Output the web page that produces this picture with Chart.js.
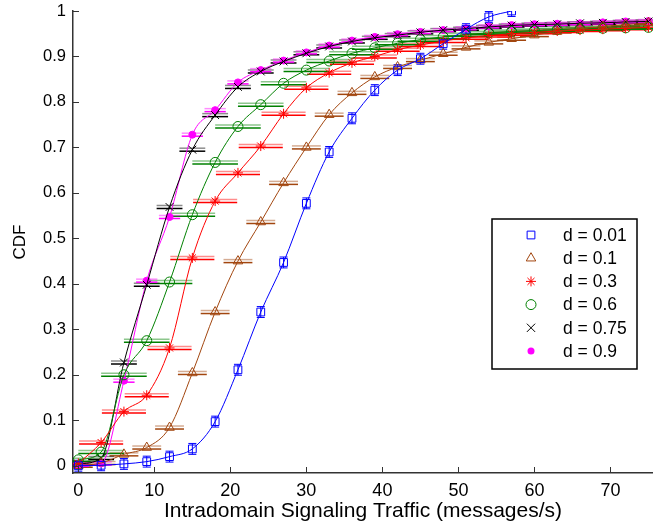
<!DOCTYPE html>
<html>
<head>
<meta charset="utf-8">
<script src="https://cdn.jsdelivr.net/npm/chart.js@4/dist/chart.umd.min.js"></script>
<style>
  body { margin: 0; background: #fff; }
  #wrap { position: relative; width: 653px; height: 527px; }
</style>
</head>
<body>
<div id="wrap"><canvas id="cdfChart" width="653" height="527"></canvas></div>
<script>
// valores de x (mensajes/s) donde hay marcadores
const xVals = [0, 3, 6, 9, 12, 15, 18, 21, 24, 27, 30, 33, 36, 39, 42, 45, 48, 51, 54, 57, 60, 63, 66, 69, 72, 75];

const labels = ["d = 0.01", "d = 0.1", "d = 0.3", "d = 0.6", "d = 0.75", "d = 0.9"];

const cdf001 = [0.000, 0.001, 0.004, 0.009, 0.020, 0.037, 0.097, 0.211, 0.338, 0.447, 0.577, 0.690, 0.764, 0.826, 0.870, 0.895, 0.928, 0.960, 0.987, 1.000];
const cdf01 = [0.000, 0.006, 0.025, 0.040, 0.084, 0.204, 0.338, 0.450, 0.536, 0.622, 0.700, 0.772, 0.820, 0.855, 0.877, 0.892, 0.906, 0.920, 0.931, 0.939, 0.947, 0.955, 0.961, 0.966, 0.970, 0.974];
const cdf03 = [0.005, 0.051, 0.119, 0.155, 0.259, 0.457, 0.582, 0.644, 0.703, 0.774, 0.831, 0.864, 0.886, 0.900, 0.915, 0.925, 0.934, 0.941, 0.946, 0.950, 0.953, 0.956, 0.958, 0.960, 0.962, 0.964];
const cdf06 = [0.013, 0.030, 0.200, 0.275, 0.404, 0.552, 0.667, 0.746, 0.794, 0.841, 0.870, 0.890, 0.907, 0.919, 0.929, 0.937, 0.943, 0.948, 0.952, 0.955, 0.957, 0.959, 0.961, 0.962, 0.963, 0.964];
const cdf075 = [0.004, 0.017, 0.227, 0.398, 0.569, 0.695, 0.771, 0.833, 0.867, 0.889, 0.907, 0.922, 0.933, 0.941, 0.947, 0.953, 0.958, 0.961, 0.965, 0.968, 0.970, 0.971, 0.973, 0.974, 0.976, 0.977];
const cdf09 = [0.002, 0.005, 0.187, 0.407, 0.547, 0.728, 0.782, 0.843, 0.870, 0.891, 0.909, 0.924, 0.935, 0.943, 0.949, 0.954, 0.958, 0.962, 0.966, 0.969, 0.971, 0.972, 0.973, 0.975, 0.977, 0.978];

// semiancho de las barras de error (horizontal en x, vertical en y)
const xErr = [0, 1.9, 2.9, 3.0, 1.7, 1.4];
const yErr = [0.012, 0, 0, 0, 0, 0];

const xTicks = [0, 10, 20, 30, 40, 50, 60, 70];
const yTicks = [0, 0.1, 0.2, 0.3, 0.4, 0.5, 0.6, 0.7, 0.8, 0.9, 1];

const colores = ["#0000ff", "#a2460f", "#ff0000", "#008000", "#000000", "#ff00ff"];
const estilos = ["rect", "triangle", "star", "circle", "crossRot", "circle"];
const radios = [5.5, 5.5, 5, 5, 5.5, 3.5];

const series = [cdf001, cdf01, cdf03, cdf06, cdf075, cdf09];

function puntos(vals) {
  return vals.map((v, i) => ({ x: xVals[i], y: v }));
}

const datasets = series.map((vals, i) => ({
  label: labels[i],
  data: puntos(vals),
  borderColor: colores[i],
  backgroundColor: colores[i],
  borderWidth: 1,
  pointStyle: estilos[i],
  pointRadius: radios[i],
  pointBorderColor: colores[i],
  pointBackgroundColor: i === 5 ? colores[i] : "rgba(0,0,0,0)",
  pointBorderWidth: 1,
  cubicInterpolationMode: "monotone",
  fill: false,
}));

function conAlfa(hex, a) {
  const r = parseInt(hex.slice(1, 3), 16), g = parseInt(hex.slice(3, 5), 16), b = parseInt(hex.slice(5, 7), 16);
  return "rgba(" + r + "," + g + "," + b + "," + a + ")";
}

// barras de error dobles, como en la figura original
const barrasError = {
  id: "barrasError",
  beforeDatasetsDraw(chart) {
    const { ctx, chartArea, scales } = chart;
    ctx.save();
    ctx.beginPath();
    ctx.rect(chartArea.left, chartArea.top, chartArea.width, chartArea.height);
    ctx.clip();
    chart.data.datasets.forEach((ds, i) => {
      ds.data.forEach((p) => {
        const px = scales.x.getPixelForValue(p.x);
        const py = scales.y.getPixelForValue(p.y);
        ctx.lineWidth = 1.5;
        if (xErr[i]) {
          const x1 = scales.x.getPixelForValue(p.x - xErr[i]);
          const x2 = scales.x.getPixelForValue(p.x + xErr[i]);
          ctx.strokeStyle = conAlfa(colores[i], 0.45);
          ctx.beginPath(); ctx.moveTo(x1, py - 1.5); ctx.lineTo(x2, py - 1.5); ctx.stroke();
          ctx.strokeStyle = colores[i];
          ctx.beginPath(); ctx.moveTo(x1, py + 1.5); ctx.lineTo(x2, py + 1.5); ctx.stroke();
        }
        if (yErr[i]) {
          const y1 = scales.y.getPixelForValue(p.y - yErr[i]);
          const y2 = scales.y.getPixelForValue(p.y + yErr[i]);
          ctx.lineWidth = 1;
          ctx.strokeStyle = colores[i];
          ctx.beginPath();
          ctx.moveTo(px, y1); ctx.lineTo(px, y2);
          ctx.moveTo(px - 4, y1); ctx.lineTo(px + 4, y1);
          ctx.moveTo(px - 4, y2); ctx.lineTo(px + 4, y2);
          ctx.stroke();
        }
      });
    });
    ctx.restore();
  },
};

// marcas de los ejes hacia dentro (estilo MATLAB)
const marcas = {
  id: "marcas",
  afterDraw(chart) {
    const { ctx, chartArea, scales } = chart;
    ctx.save();
    ctx.strokeStyle = "#333";
    ctx.lineWidth = 1;
    ctx.beginPath();
    xTicks.forEach((v) => {
      const px = Math.round(scales.x.getPixelForValue(v)) + 0.5;
      ctx.moveTo(px, chartArea.bottom); ctx.lineTo(px, chartArea.bottom - 6);
    });
    yTicks.forEach((v) => {
      const py = Math.round(scales.y.getPixelForValue(v)) + 0.5;
      ctx.moveTo(chartArea.left, py); ctx.lineTo(chartArea.left + 6, py);
    });
    ctx.stroke();
    ctx.restore();
  },
};

function dibujarMarcador(ctx, i, x, y) {
  const r = radios[i];
  ctx.strokeStyle = colores[i];
  ctx.fillStyle = colores[i];
  ctx.lineWidth = 1;
  ctx.beginPath();
  if (estilos[i] === "rect") {
    const s = r * Math.SQRT1_2;
    ctx.rect(x - s, y - s, 2 * s, 2 * s);
    ctx.stroke();
  } else if (estilos[i] === "triangle") {
    ctx.moveTo(x, y - r);
    ctx.lineTo(x + r * 0.866, y + r * 0.5);
    ctx.lineTo(x - r * 0.866, y + r * 0.5);
    ctx.closePath();
    ctx.stroke();
  } else if (estilos[i] === "star") {
    for (let k = 0; k < 4; k++) {
      const a = (k * Math.PI) / 4;
      ctx.moveTo(x - r * Math.cos(a), y - r * Math.sin(a));
      ctx.lineTo(x + r * Math.cos(a), y + r * Math.sin(a));
    }
    ctx.stroke();
  } else if (estilos[i] === "crossRot") {
    const s = r * 0.75;
    ctx.moveTo(x - s, y - s); ctx.lineTo(x + s, y + s);
    ctx.moveTo(x + s, y - s); ctx.lineTo(x - s, y + s);
    ctx.stroke();
  } else {
    ctx.arc(x, y, r, 0, Math.PI * 2);
    if (i === 5) ctx.fill(); else ctx.stroke();
  }
}

// leyenda dentro del área del gráfico
const leyenda = {
  id: "leyenda",
  afterDraw(chart) {
    const ctx = chart.ctx;
    const bx = 492, by = 219, bw = 145, bh = 150;
    ctx.save();
    ctx.fillStyle = "#fff";
    ctx.fillRect(bx, by, bw, bh);
    ctx.strokeStyle = "#000";
    ctx.lineWidth = 1.5;
    ctx.strokeRect(bx, by, bw, bh);
    labels.forEach((t, i) => {
      const yy = by + 16 + i * 23.2;
      dibujarMarcador(ctx, i, 531, yy);
      ctx.fillStyle = "#000";
      ctx.font = "17.5px 'Liberation Sans', Arial, sans-serif";
      ctx.textBaseline = "middle";
      ctx.textAlign = "left";
      ctx.fillText(t, 563, yy + 1);
    });
    ctx.restore();
  },
};

const familia = "'Liberation Sans', Arial, sans-serif";

new Chart(document.getElementById("cdfChart").getContext("2d"), {
  type: "line",
  data: { datasets: datasets },
  options: {
    responsive: false,
    animation: false,
    events: [],
    layout: { autoPadding: false, padding: { top: 11, right: 0, left: 0, bottom: 0 } },
    plugins: { legend: { display: false }, tooltip: { enabled: false } },
    scales: {
      x: {
        type: "linear",
        min: -0.7,
        max: 75.6,
        afterBuildTicks: (scale) => { scale.ticks = xTicks.map((v) => ({ value: v })); },
        afterFit: (scale) => { scale.height = 54; },
        grid: { display: true, drawOnChartArea: false, drawTicks: true, tickLength: 7, tickColor: "rgba(0,0,0,0)" },
        border: { display: true, color: "#333", width: 1.5 },
        ticks: { color: "#000", font: { family: familia, size: 18 }, maxRotation: 0, padding: 0 },
        title: {
          display: true,
          text: "Intradomain Signaling Traffic (messages/s)",
          color: "#000",
          font: { family: familia, size: 21 },
          padding: { top: 0, bottom: 3 },
        },
      },
      y: {
        type: "linear",
        min: -0.016,
        max: 1,
        afterBuildTicks: (scale) => { scale.ticks = yTicks.map((v) => ({ value: v })); },
        afterFit: (scale) => { scale.width = 73; },
        grid: { display: true, drawOnChartArea: false, drawTicks: true, tickLength: 7, tickColor: "rgba(0,0,0,0)" },
        border: { display: true, color: "#333", width: 1.5 },
        ticks: {
          color: "#000",
          font: { family: familia, size: 16.5 },
          padding: 0,
          callback: (v) => String(Number(v.toFixed(1))),
        },
        title: {
          display: true,
          text: "CDF",
          color: "#000",
          font: { family: familia, size: 17 },
          padding: { top: 10, bottom: 0 },
        },
      },
    },
  },
  plugins: [barrasError, marcas, leyenda],
});
</script>
</body>
</html>
